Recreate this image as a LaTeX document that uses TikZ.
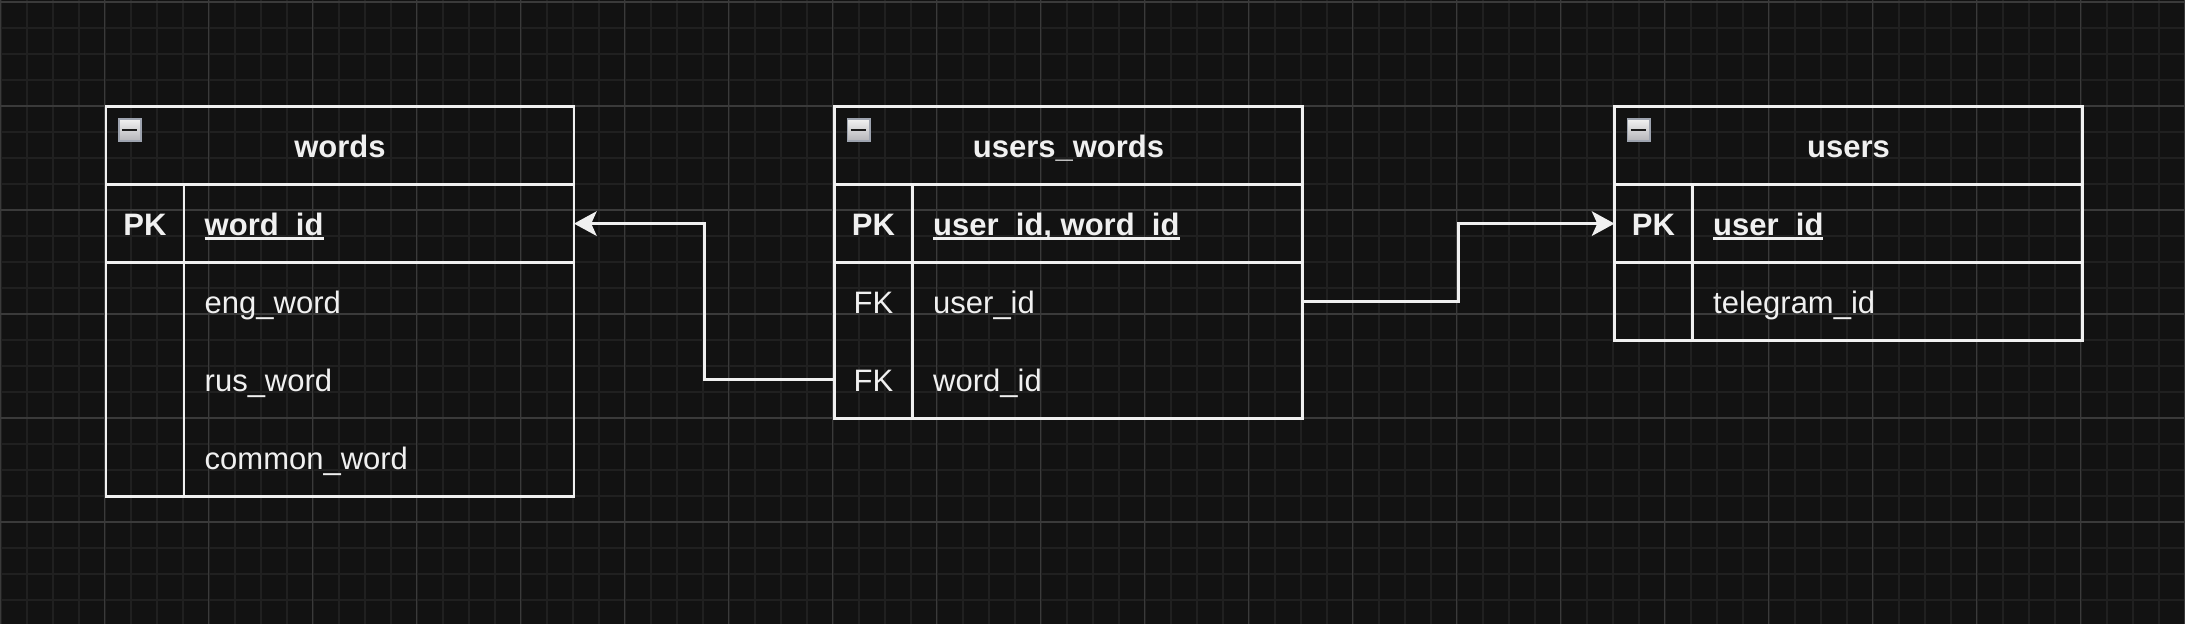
\documentclass[tikz,border=0pt]{standalone}
\usepackage{fontspec}
\setmainfont{Liberation Sans}
\usetikzlibrary{arrows.meta,positioning}
\definecolor{bg}{HTML}{121212}
\definecolor{fg}{HTML}{F0F0F0}
\definecolor{gridminor}{HTML}{202020}
\definecolor{gridmajor}{HTML}{3A3A3A}
\definecolor{iconborder}{HTML}{9EA4B0}
\definecolor{icontop}{HTML}{F2F2F2}
\definecolor{iconbot}{HTML}{B4B4B8}
\definecolor{iconbar}{HTML}{1A1A1A}
\newcommand\tfont{\fontsize{31}{37}\selectfont}
\newcommand\pkfield[1]{\setbox0=\hbox{\bfseries #1}\rlap{\rule[-4.7pt]{\wd0}{2.7pt}}\box0}
\tikzset{
  box/.style={draw=fg, line width=2.6pt, rectangle, inner sep=0pt, outer sep=0pt, anchor=north west, minimum height=78pt},
  hdr/.style={box, minimum width=468pt, font=\tfont\bfseries, text=fg, text height=23pt, text depth=0pt},
  keycol/.style={box, minimum width=78pt},
  fieldcol/.style={box, minimum width=390pt},
  rowbox/.style={rectangle, inner sep=0pt, outer sep=0pt, anchor=north west, minimum width=468pt, minimum height=78pt},
  keytxt/.style={anchor=base, inner sep=0pt, font=\tfont, text=fg},
  keybold/.style={keytxt, font=\tfont\bfseries},
  fieldtxt/.style={anchor=base west, inner sep=0pt, font=\tfont, text=fg},
  icon/.style={rectangle, draw=iconborder, line width=1.6pt, inner sep=0pt, outer sep=0pt,
    minimum size=22.4pt, top color=icontop, bottom color=iconbot,
    path picture={\draw[iconbar, line width=2.7pt] ([xshift=3.2pt]path picture bounding box.west) -- ([xshift=-3.8pt]path picture bounding box.east);}},
  conn/.style={draw=fg, line width=2.6pt, -{Stealth[length=22.7pt,width=24.6pt,inset=5.5pt]}},
  minorline/.style={draw=gridminor, line width=1.6pt},
  majorline/.style={draw=gridmajor, line width=1.2pt},
}
\begin{document}
\begin{tikzpicture}[x=1pt, y=-1pt]
\useasboundingbox (0,0) rectangle (2185,624);
\fill[bg] (0,0) rectangle (2185,624);
% grid
\foreach \i in {0,...,84} \draw[minorline] ({0.7+26*\i},0) -- ({0.7+26*\i},624);
\foreach \j in {0,...,23} \draw[minorline] (0,{2+26*\j}) -- (2185,{2+26*\j});
\foreach \i in {0,...,21} \draw[majorline] ({0.7+104*\i},0) -- ({0.7+104*\i},624);
\foreach \j in {0,...,5} \draw[majorline] (0,{2+104*\j}) -- (2185,{2+104*\j});

% ---------- words ----------
\node[hdr] (wh) at (106,106.6) {words};
\node[icon] (wicon) at (130,130) {};
\node[rowbox] (wpk) at (106,184.6) {};
\node[keycol] (wpkk) at (106,184.6) {};
\node[fieldcol] (wpkf) at (184,184.6) {};
\node[keycol, minimum height=234pt] (wkk) at (106,262.6) {};
\node[fieldcol, minimum height=234pt] (wff) at (184,262.6) {};
\node[rowbox] (weng) at (106,262.6) {};
\node[rowbox] (wrus) at (106,340.6) {};
\node[rowbox] (wcom) at (106,418.6) {};
\node[keybold] (wpkt) at ([xshift=39pt,yshift=-11.5pt]wpk.west) {PK};
\node[fieldtxt] (wpkn) at ([xshift=98.5pt,yshift=-11.5pt]wpk.west) {\pkfield{word\_id}};
\node[fieldtxt] (wengn) at ([xshift=98.5pt,yshift=-11.5pt]weng.west) {eng\_word};
\node[fieldtxt] (wrusn) at ([xshift=98.5pt,yshift=-11.5pt]wrus.west) {rus\_word};
\node[fieldtxt] (wcomn) at ([xshift=98.5pt,yshift=-11.5pt]wcom.west) {common\_word};

% ---------- users_words ----------
\node[hdr] (uwh) at (834.5,106.6) {users\_words};
\node[icon] (uwicon) at (858.5,130) {};
\node[rowbox] (uwpk) at (834.5,184.6) {};
\node[keycol] (uwpkk) at (834.5,184.6) {};
\node[fieldcol] (uwpkf) at (912.5,184.6) {};
\node[keycol, minimum height=156pt] (uwkk) at (834.5,262.6) {};
\node[fieldcol, minimum height=156pt] (uwff) at (912.5,262.6) {};
\node[rowbox] (uwuserid) at (834.5,262.6) {};
\node[rowbox] (uwwordid) at (834.5,340.6) {};
\node[keybold] (uwpkt) at ([xshift=39pt,yshift=-11.5pt]uwpk.west) {PK};
\node[fieldtxt] (uwpkn) at ([xshift=98.5pt,yshift=-11.5pt]uwpk.west) {\pkfield{user\_id, word\_id}};
\node[keytxt] (uwfk1) at ([xshift=39pt,yshift=-11.5pt]uwuserid.west) {FK};
\node[fieldtxt] (uwfk1n) at ([xshift=98.5pt,yshift=-11.5pt]uwuserid.west) {user\_id};
\node[keytxt] (uwfk2) at ([xshift=39pt,yshift=-11.5pt]uwwordid.west) {FK};
\node[fieldtxt] (uwfk2n) at ([xshift=98.5pt,yshift=-11.5pt]uwwordid.west) {word\_id};

% ---------- users ----------
\node[hdr] (uh) at (1614.5,106.6) {users};
\node[icon] (uicon) at (1638.5,130) {};
\node[rowbox] (upk) at (1614.5,184.6) {};
\node[keycol] (upkk) at (1614.5,184.6) {};
\node[fieldcol] (upkf) at (1692.5,184.6) {};
\node[keycol] (ukk) at (1614.5,262.6) {};
\node[fieldcol] (uff) at (1692.5,262.6) {};
\node[rowbox] (utg) at (1614.5,262.6) {};
\node[keybold] (upkt) at ([xshift=39pt,yshift=-11.5pt]upk.west) {PK};
\node[fieldtxt] (upkn) at ([xshift=98.5pt,yshift=-11.5pt]upk.west) {\pkfield{user\_id}};
\node[fieldtxt] (utgn) at ([xshift=98.5pt,yshift=-11.5pt]utg.west) {telegram\_id};

% ---------- connectors ----------
\draw[conn] (uwwordid.west) -- ++(-129.8,0) |- (wpk.east);
\draw[conn] (uwuserid.east) -- ++(156,0) |- (upk.west);
\end{tikzpicture}
\end{document}
